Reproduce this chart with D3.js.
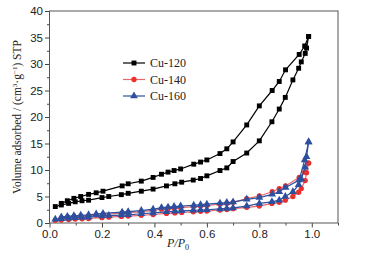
<!DOCTYPE html>
<html>
<head>
<meta charset="utf-8">
<script src="https://cdn.jsdelivr.net/npm/d3@7"></script>
<style>
  html, body { margin: 0; padding: 0; background: #fff; }
  svg { display: block; font-family: "Liberation Serif", "DejaVu Serif", serif; }
  .axis text { font-size: 11.5px; fill: #222; }
  .axis line { stroke: #444; }
  .axis path { display: none; }
</style>
</head>
<body>
<div id="chart"></div>
<script>
// relative pressure P/P0, adsorption (rising) and desorption (falling) branches
const pAds = [0.022, 0.045, 0.073, 0.098, 0.124, 0.149, 0.20, 0.226, 0.274, 0.30, 0.35, 0.395, 0.446, 0.478, 0.504, 0.548, 0.576, 0.60, 0.65, 0.676, 0.70, 0.752, 0.80, 0.848, 0.876, 0.899, 0.928, 0.95, 0.96, 0.975, 0.98, 0.988];
const pDes = [0.988, 0.973, 0.952, 0.90, 0.876, 0.849, 0.80, 0.752, 0.70, 0.676, 0.65, 0.60, 0.576, 0.55, 0.50, 0.475, 0.452, 0.427, 0.395, 0.35, 0.30, 0.277, 0.204, 0.178, 0.149, 0.119, 0.093, 0.068, 0.045];

const cu120Ads = [3.1, 3.4, 3.7, 4.0, 4.2, 4.3, 4.8, 5.0, 5.35, 5.6, 6.0, 6.4, 7.0, 7.4, 7.7, 8.1, 8.4, 8.9, 9.9, 10.4, 11.6, 13.2, 15.5, 19.1, 21.5, 23.7, 27.0, 29.2, 30.4, 32.0, 33.0, 35.2];
const cu120Des = [35.2, 33.4, 31.8, 28.9, 26.7, 25.0, 22.1, 18.5, 15.3, 14.0, 13.1, 11.9, 11.5, 11.1, 10.2, 9.9, 9.6, 9.2, 8.6, 7.9, 7.4, 7.0, 6.0, 5.7, 5.4, 5.0, 4.65, 4.2, 3.7];
const cu140Ads = [0.5, 0.55, 0.65, 0.75, 0.8, 0.85, 1.0, 1.1, 1.25, 1.3, 1.45, 1.6, 1.8, 1.9, 2.0, 2.1, 2.2, 2.25, 2.45, 2.55, 2.7, 2.95, 3.2, 3.7, 3.9, 4.3, 5.0, 5.8, 6.5, 8.0, 9.5, 11.3];
const cu140Des = [11.3, 9.6, 8.6, 7.0, 6.5, 5.9, 5.1, 4.6, 3.9, 3.7, 3.55, 3.3, 3.2, 3.1, 2.9, 2.8, 2.7, 2.6, 2.4, 2.15, 1.95, 1.85, 1.6, 1.5, 1.35, 1.25, 1.15, 1.05, 0.95];
const cu160Ads = [0.7, 0.8, 0.9, 1.0, 1.05, 1.1, 1.3, 1.4, 1.5, 1.55, 1.75, 1.9, 2.1, 2.2, 2.3, 2.4, 2.45, 2.5, 2.65, 2.75, 2.85, 3.2, 3.7, 4.0, 4.3, 5.0, 5.9, 7.2, 8.3, 10.5, 12.5, 15.3];
const cu160Des = [15.3, 11.9, 8.1, 6.7, 5.9, 5.4, 4.8, 4.47, 3.95, 3.85, 3.75, 3.55, 3.45, 3.35, 3.2, 3.1, 3.0, 2.9, 2.6, 2.35, 2.15, 2.05, 1.8, 1.7, 1.55, 1.45, 1.35, 1.25, 1.15];

const seriesNames = ['Cu-120', 'Cu-140', 'Cu-160'];
const xTicks = [0, 0.2, 0.4, 0.6, 0.8, 1.0];
const yTicks = [0, 5, 10, 15, 20, 25, 30, 35, 40];

const series = [
  { name: seriesNames[0], ads: cu120Ads, des: cu120Des, line: '#000', fill: '#000', shape: 'square' },
  { name: seriesNames[1], ads: cu140Ads, des: cu140Des, line: '#e8686a', fill: '#e8302f', shape: 'circle' },
  { name: seriesNames[2], ads: cu160Ads, des: cu160Des, line: '#2d4f9e', fill: '#2d4f9e', shape: 'triangle' }
];

const W = 371, H = 259, m = { t: 11, r: 33, b: 36, l: 49.5 };
const svg = d3.select('#chart').append('svg').attr('width', W).attr('height', H);

const x = d3.scaleLinear().domain([0, 1.1]).range([m.l, W - m.r]);
const y = d3.scaleLinear().domain([0, 40]).range([H - m.b, m.t]);

// minor ticks
svg.append('g').attr('class', 'axis').attr('transform', `translate(0,${H - m.b})`)
  .call(d3.axisBottom(x).tickValues(d3.range(1, 12, 2).map(d => d / 10)).tickSize(2.5).tickFormat(''));
svg.append('g').attr('class', 'axis').attr('transform', `translate(${m.l},0)`)
  .call(d3.axisLeft(y).tickValues(d3.range(2.5, 40, 5)).tickSize(2.5).tickFormat(''));
// major ticks
svg.append('g').attr('class', 'axis').attr('transform', `translate(0,${H - m.b})`)
  .call(d3.axisBottom(x).tickValues(xTicks).tickSize(4.5).tickPadding(2).tickFormat(d3.format('.1f')));
svg.append('g').attr('class', 'axis').attr('transform', `translate(${m.l},0)`)
  .call(d3.axisLeft(y).tickValues(yTicks).tickSize(4.5).tickPadding(2));

svg.append('rect').attr('x', m.l).attr('y', m.t)
  .attr('width', W - m.r - m.l).attr('height', H - m.b - m.t)
  .attr('fill', 'none').attr('stroke', '#555').attr('stroke-width', 1);

const sym = { square: d3.symbolSquare, circle: d3.symbolCircle, triangle: d3.symbolTriangle };
const size = { square: 24, circle: 22, triangle: 26 };
const line = d3.line().x(d => x(d[0])).y(d => y(d[1]));

series.forEach(s => {
  const a = pAds.map((p, i) => [p, s.ads[i]]);
  const d = pDes.map((p, i) => [p, s.des[i]]);
  const g = svg.append('g');
  [a, d].forEach(pts => {
    g.append('path').attr('d', line(pts)).attr('fill', 'none')
      .attr('stroke', s.line).attr('stroke-width', 1.2);
  });
  g.selectAll('path.m').data(a.concat(d)).join('path').attr('class', 'm')
    .attr('transform', p => `translate(${x(p[0])},${y(p[1])})`)
    .attr('d', d3.symbol(sym[s.shape], size[s.shape]))
    .attr('fill', s.fill);
});

// legend
const leg = svg.append('g').attr('transform', 'translate(123,63)');
series.forEach((s, i) => {
  const r = leg.append('g').attr('transform', `translate(0,${i * 16.5})`);
  r.append('line').attr('x1', 0).attr('x2', 22).attr('stroke', s.line).attr('stroke-width', 1.2);
  r.append('path').attr('transform', 'translate(11,0)')
    .attr('d', d3.symbol(sym[s.shape], size[s.shape])).attr('fill', s.fill);
  r.append('text').attr('x', 27).attr('y', 4).attr('font-size', 12).attr('fill', '#222').text(s.name);
});

// axis titles
svg.append('text').attr('x', x(0.49)).attr('y', 247).attr('text-anchor', 'middle')
  .attr('font-size', 12).attr('fill', '#222').attr('font-style', 'italic')
  .html('P/P<tspan font-size="8" dy="3" font-style="normal">0</tspan>');

svg.append('text').attr('transform', `translate(21,${(m.t + H - m.b) / 2}) rotate(-90)`)
  .attr('text-anchor', 'middle').attr('font-size', 11.5).attr('fill', '#222')
  .html('Volume adsorbed / (cm<tspan font-size="7" dy="-4">3</tspan><tspan dy="4">·g</tspan><tspan font-size="7" dy="-4">−1</tspan><tspan dy="4">) STP</tspan>');
</script>
</body>
</html>
